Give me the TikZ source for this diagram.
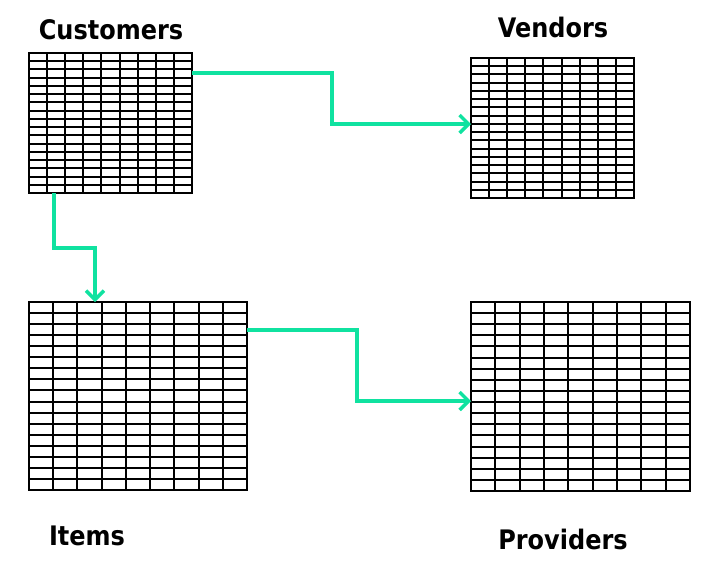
\documentclass[tikz,border=0pt]{standalone}
\usepackage{fontspec}
\setmainfont{DejaVu Sans}
\usetikzlibrary{arrows.meta}
\definecolor{flowgreen}{RGB}{16,226,160}
\newcommand{\tallbf}[1]{\scalebox{1}[1.12]{#1}}
\tikzset{
  gridbox/.style={draw=black,line width=2pt,inner sep=0pt,outer sep=0pt},
  gridline/.style={black,line width=1.8pt},
  flow/.style={flowgreen,line width=3.6pt,line join=miter,-{Straight Barb[length=9pt,width=18pt,line width=3.4pt]}},
  title/.style={font=\bfseries\fontsize{24}{28}\selectfont,inner sep=0pt}
}
\newcommand{\tablegrid}[5]{%
  \node[gridbox,minimum width=#4-#2,minimum height=#5-#3,anchor=north west] (#1) at (#2,#3) {};
  \foreach \i in {1,...,8}{\draw[gridline] ({round(#2+(#4-#2)*\i/9)},#3) -- ({round(#2+(#4-#2)*\i/9)},#5);}
  \foreach \j in {1,...,16}{\draw[gridline] (#2,{round(#3+(#5-#3)*\j/17)}) -- (#4,{round(#3+(#5-#3)*\j/17)});}
}
\begin{document}
\begin{tikzpicture}[x=1pt,y=-1pt]
\useasboundingbox (0,0) rectangle (707,566);
\tablegrid{cust}{29}{53}{192}{193}
\tablegrid{vend}{471}{58}{634}{198}
\tablegrid{items}{29}{302}{247}{490}
\tablegrid{prov}{471}{302}{690}{491}
\node[title] (tcust) at (111,30) {\tallbf{Customers}};
\node[title] (tvend) at (553,27) {\tallbf{Vendors}};
\node[title] (titems) at (87,536) {\tallbf{Items}};
\node[title] (tprov) at (563,539) {\tallbf{Providers}};
\draw[flow] (cust.east |- 0,73) -- (332,73) |- (vend.west |- 0,124);
\draw[flow] (cust.south -| 54,0) |- (95,248) -- (items.north -| 95,0);
\draw[flow] (items.east |- 0,330) -- (357,330) |- (prov.west |- 0,401);
\end{tikzpicture}
\end{document}
